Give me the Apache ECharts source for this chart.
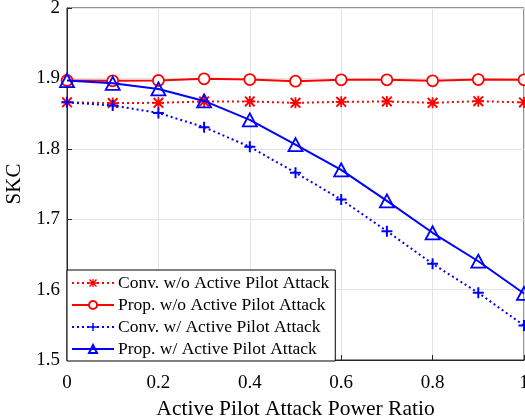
<!DOCTYPE html>
<html>
<head>
<meta charset="utf-8">
<script src="https://cdn.jsdelivr.net/npm/echarts@6/dist/echarts.min.js"></script>
<style>
  html, body { margin: 0; padding: 0; background: #fff; }
  #chart { width: 525px; height: 420px; }
</style>
</head>
<body>
<div id="chart"></div>
<script>
// Attack power ratio sampled at 0, 0.1, ..., 1
const ratios = [0, 0.1, 0.2, 0.3, 0.4, 0.5, 0.6, 0.7, 0.8, 0.9, 1.0];

// Secret key capacity for each scheme
const convNoAttack   = [1.866, 1.865, 1.8653, 1.8672, 1.8672, 1.8653, 1.8667, 1.8672, 1.8653, 1.8677, 1.8658];
const propNoAttack   = [1.897, 1.8966, 1.897, 1.8994, 1.8984, 1.896, 1.898, 1.898, 1.8966, 1.8984, 1.898];
const convWithAttack = [1.866, 1.8615, 1.851, 1.8307, 1.8028, 1.766, 1.728, 1.683, 1.6366, 1.5954, 1.549];
const propWithAttack = [1.897, 1.893, 1.885, 1.868, 1.841, 1.806, 1.770, 1.726, 1.6807, 1.6403, 1.5945];

const seriesNames = [
  'Conv. w/o Active Pilot Attack',
  'Prop. w/o Active Pilot Attack',
  'Conv. w/ Active Pilot Attack',
  'Prop. w/ Active Pilot Attack'
];

const xTicks = [0, 0.2, 0.4, 0.6, 0.8, 1];
const yTicks = [1.5, 1.6, 1.7, 1.8, 1.9, 2];

const serif = '"Liberation Serif", "Times New Roman", serif';
const axisColor = '#262626';

// Marker shapes: bold asterisk and plus sign
const asteriskPath = 'path://M8.4,0 L11.6,0 L11.6,8.4 L20,8.4 L20,11.6 L11.6,11.6 L11.6,20 L8.4,20 L8.4,11.6 L0,11.6 L0,8.4 L8.4,8.4 Z M2.5,0 L20,17.5 L17.5,20 L0,2.5 Z M17.5,0 L20,2.5 L2.5,20 L0,17.5 Z';
const plusPath = 'path://M8.2,0 L11.8,0 L11.8,8.2 L20,8.2 L20,11.8 L11.8,11.8 L11.8,20 L8.2,20 L8.2,11.8 L0,11.8 L0,8.2 L8.2,8.2 Z';

function pairs(ys) {
  return ratios.map((x, i) => [x, ys[i]]);
}

const red = '#ff0000';
const blue = '#0000ff';

const option = {
  animation: false,
  backgroundColor: '#fff',
  grid: {
    left: 67, right: 1, top: 8, bottom: 60,
    outerBoundsMode: 'none',
    show: true, borderColor: axisColor, borderWidth: 1, backgroundColor: 'transparent'
  },
  xAxis: {
    type: 'value', min: 0, max: 1, interval: 0.2,
    name: 'Active Pilot Attack Power Ratio',
    nameLocation: 'middle', nameGap: 36,
    nameTextStyle: { fontFamily: serif, fontSize: 21.5, color: '#000' },
    axisLine: { show: true, lineStyle: { color: axisColor, width: 1 } },
    axisTick: { show: true, inside: true, length: 5, lineStyle: { color: axisColor } },
    axisLabel: {
      fontFamily: serif, fontSize: 19, color: '#000', margin: 14,
      formatter: v => { const t = xTicks.find(k => Math.abs(k - v) < 1e-9); return t === undefined ? '' : String(t); }
    },
    splitLine: { show: true, lineStyle: { color: '#e3e3e3', width: 1 } }
  },
  yAxis: {
    type: 'value', min: 1.5, max: 2, interval: 0.1,
    name: 'SKC',
    nameLocation: 'middle', nameGap: 39,
    nameTextStyle: { fontFamily: serif, fontSize: 21, color: '#000' },
    axisLine: { show: true, lineStyle: { color: axisColor, width: 1 } },
    axisTick: { show: true, inside: true, length: 5, lineStyle: { color: axisColor } },
    axisLabel: {
      fontFamily: serif, fontSize: 19, color: '#000', margin: 7,
      formatter: v => { const t = yTicks.find(k => Math.abs(k - v) < 1e-9); return t === undefined ? '' : String(t); }
    },
    splitLine: { show: true, lineStyle: { color: '#e3e3e3', width: 1 } }
  },
  legend: {
    orient: 'vertical',
    left: 67, bottom: 59,
    width: 269,
    backgroundColor: '#fff',
    borderColor: '#000', borderWidth: 1,
    padding: [4, 6, 3, 4],
    itemGap: 4,
    itemWidth: 42, itemHeight: 10,
    textStyle: { fontFamily: serif, fontSize: 17.5, color: '#000', padding: [0, 0, 0, -1] },
    data: seriesNames
  },
  series: [
    {
      name: seriesNames[0], type: 'line', data: pairs(convNoAttack),
      symbol: asteriskPath, symbolSize: 11, showSymbol: true,
      lineStyle: { color: red, width: 2, type: [2, 3] },
      itemStyle: { color: red, borderWidth: 0 },
      z: 3
    },
    {
      name: seriesNames[1], type: 'line', data: pairs(propNoAttack),
      symbol: 'circle', symbolSize: 11,
      lineStyle: { color: red, width: 2 },
      itemStyle: { color: '#fff', borderColor: red, borderWidth: 1.8 },
      z: 4
    },
    {
      name: seriesNames[2], type: 'line', data: pairs(convWithAttack),
      symbol: plusPath, symbolSize: 11,
      lineStyle: { color: blue, width: 2, type: [2, 3] },
      itemStyle: { color: blue, borderWidth: 0 },
      z: 5
    },
    {
      name: seriesNames[3], type: 'line', data: pairs(propWithAttack),
      symbol: 'triangle', symbolSize: [14, 13],
      lineStyle: { color: blue, width: 2 },
      itemStyle: { color: 'rgba(255,255,255,0)', borderColor: blue, borderWidth: 1.8 },
      z: 6
    }
  ]
};

const chart = echarts.init(document.getElementById('chart'), null, { renderer: 'canvas' });
chart.setOption(option);
</script>
</body>
</html>
